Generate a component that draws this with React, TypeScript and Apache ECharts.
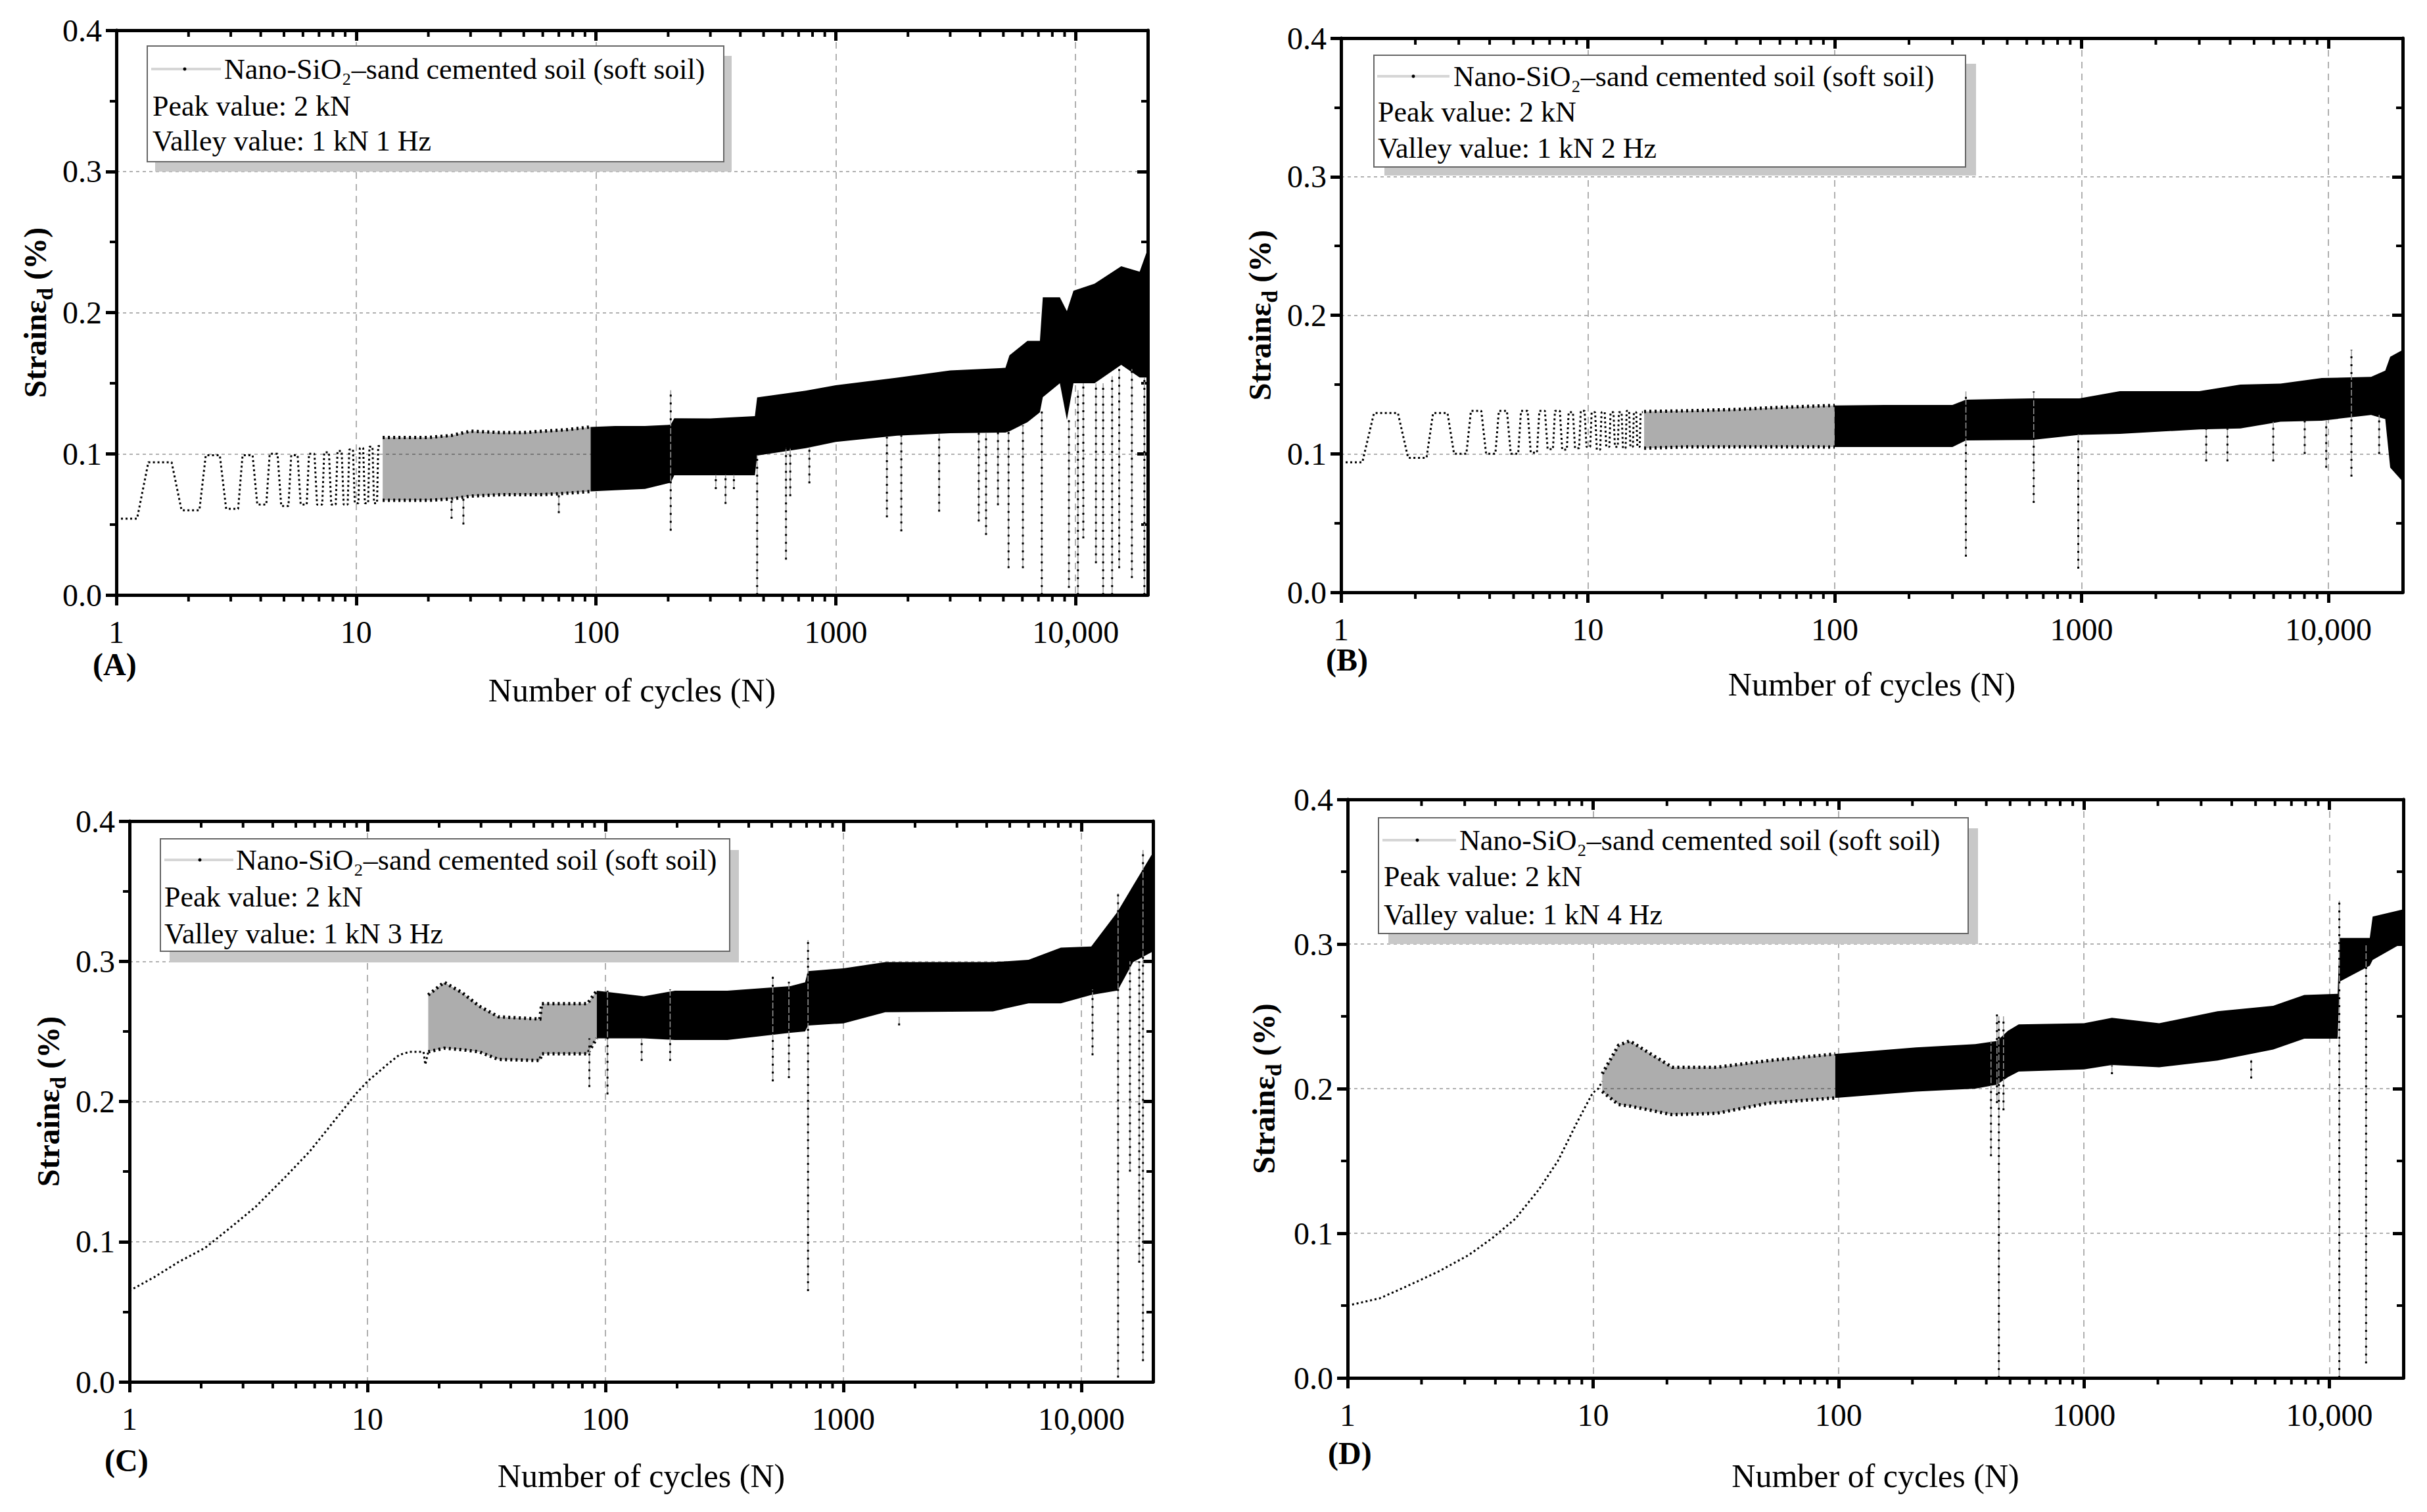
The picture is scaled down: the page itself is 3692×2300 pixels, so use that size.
import React, { useEffect, useRef } from 'react';
import * as echarts from 'echarts';

const FONT = "'Liberation Serif', 'Times New Roman', serif";

// axis labels
const xTickLabels = ['1', '10', '100', '1000', '10,000'];
const yTickLabels = ['0.0', '0.1', '0.2', '0.3', '0.4'];
const minorTickN = [
  2, 3, 4, 5, 6, 7, 8, 9,
  20, 30, 40, 50, 60, 70, 80, 90,
  200, 300, 400, 500, 600, 700, 800, 900,
  2000, 3000, 4000, 5000, 6000, 7000, 8000, 9000,
];

// (A) 1 Hz: peak / valley of the first loading cycles
const aPeak = [0.094, 0.099, 0.099, 0.1, 0.099, 0.1, 0.101, 0.102, 0.103, 0.104, 0.105, 0.1055];
const aValley = [0.054, 0.06, 0.061, 0.064, 0.063, 0.064, 0.064, 0.064, 0.064, 0.065, 0.065, 0.065];
// sparse (hatched) part of the cyclic band
const aHatchN = [12.9, 15, 20, 25, 30, 40, 50, 60, 75, 95];
const aHatchLow = [0.067, 0.067, 0.067, 0.068, 0.07, 0.071, 0.071, 0.071, 0.072, 0.0733];
const aHatchHigh = [0.1115, 0.1115, 0.1115, 0.113, 0.116, 0.115, 0.115, 0.116, 0.117, 0.119];
// dense band
const aBandN = [95, 120, 160, 205, 212, 300, 460, 470, 750, 1000, 1800, 3000, 5100, 5300, 6300, 7100, 7300, 8600, 9200, 9800, 12000, 15500, 18500, 20000];
const aBandHigh = [0.119, 0.1197, 0.1197, 0.1206, 0.1251, 0.125, 0.1267, 0.1399, 0.1447, 0.1486, 0.1539, 0.159, 0.1609, 0.1697, 0.18, 0.18, 0.2108, 0.2108, 0.201, 0.2155, 0.2205, 0.2328, 0.229, 0.245];
const aBandLow = [0.0733, 0.0742, 0.0751, 0.0795, 0.0847, 0.0847, 0.0847, 0.0987, 0.104, 0.1084, 0.1128, 0.1145, 0.115, 0.116, 0.1223, 0.1293, 0.14, 0.15, 0.124, 0.15, 0.15, 0.163, 0.154, 0.154];
// isolated drops
const aSpikeN = [25, 28, 70, 205, 316, 347, 376, 470, 620, 646, 776, 1634, 1876, 2698, 3946, 4233, 4746, 5254, 6030, 7230, 9380, 10230, 10770, 12160, 13030, 14200, 15200, 17170, 19360];
const aSpikeMin = [0.054, 0.05, 0.058, 0.0455, 0.075, 0.0645, 0.075, 0.0, 0.025, 0.07, 0.079, 0.055, 0.045, 0.059, 0.052, 0.0425, 0.0636, 0.019, 0.019, 0.0, 0.005, 0.0, 0.04, 0.0225, 0.0, 0.0, 0.019, 0.012, 0.0];
const aSpikeMax = [0.068, 0.07, 0.072, 0.145, 0.085, 0.085, 0.085, 0.099, 0.104, 0.104, 0.104, 0.112, 0.113, 0.114, 0.115, 0.115, 0.115, 0.116, 0.12, 0.13, 0.124, 0.145, 0.15, 0.15, 0.15, 0.155, 0.16, 0.16, 0.154];

// (B) 2 Hz
const bPeak = [0.1294, 0.1294, 0.131, 0.131, 0.131, 0.131, 0.131, 0.13, 0.131, 0.13, 0.13, 0.13, 0.13, 0.131, 0.13, 0.13];
const bValley = [0.0938, 0.097, 0.1, 0.1, 0.1, 0.1008, 0.1033, 0.103, 0.104, 0.105, 0.103, 0.105, 0.105, 0.104, 0.105, 0.105];
const bHatchN = [16.9, 25, 40, 60, 100];
const bHatchLow = [0.104, 0.105, 0.105, 0.105, 0.1049];
const bHatchHigh = [0.1305, 0.131, 0.132, 0.1335, 0.1349];
const bBandN = [100, 160, 300, 340, 630, 980, 1430, 3000, 4400, 6400, 9400, 14900, 17000, 17800, 20000];
const bBandHigh = [0.1349, 0.1352, 0.1352, 0.139, 0.14, 0.14, 0.1452, 0.1452, 0.1499, 0.1507, 0.1547, 0.1555, 0.16, 0.17, 0.175];
const bBandLow = [0.1049, 0.1049, 0.1049, 0.1096, 0.11, 0.1136, 0.1144, 0.1175, 0.1183, 0.1231, 0.1239, 0.128, 0.125, 0.09, 0.08];
const bSpikeN = [340, 640, 970, 3200, 3900, 5980, 8020, 9800, 12400, 16060];
const bSpikeMin = [0.0258, 0.0645, 0.0171, 0.0946, 0.0946, 0.0946, 0.0999, 0.0899, 0.0835, 0.0999];
const bSpikeMax = [0.145, 0.145, 0.114, 0.118, 0.118, 0.123, 0.124, 0.124, 0.175, 0.128];

// (C) 3 Hz
const cCurveN = [1, 1.28, 1.6, 2.08, 2.7, 3.39, 4.57, 5.72, 7.16, 8.98, 10, 12.1, 13.6, 15, 17.2, 17.5, 18];
const cCurveStrain = [0.065, 0.075, 0.0853, 0.0956, 0.111, 0.1249, 0.147, 0.1644, 0.185, 0.2058, 0.2143, 0.2263, 0.2332, 0.2354, 0.2354, 0.2263, 0.2354];
const cHatchN = [18, 21, 25, 29.5, 35.5, 53, 54, 84, 92];
const cHatchLow = [0.2354, 0.238, 0.2369, 0.2354, 0.23, 0.2292, 0.234, 0.234, 0.245];
const cHatchHigh = [0.276, 0.285, 0.2776, 0.268, 0.2604, 0.2588, 0.2698, 0.2698, 0.279];
const cBandN = [92, 145, 196, 325, 600, 690, 710, 1000, 1500, 4250, 6000, 8200, 11000, 14200, 16500, 20000];
const cBandHigh = [0.279, 0.275, 0.279, 0.279, 0.2823, 0.285, 0.293, 0.295, 0.2994, 0.2994, 0.301, 0.3097, 0.3105, 0.3354, 0.354, 0.3776];
const cBandLow = [0.245, 0.245, 0.2439, 0.2439, 0.249, 0.25, 0.2542, 0.2557, 0.2636, 0.2643, 0.27, 0.27, 0.276, 0.2791, 0.2994, 0.307];
const cSpikeN = [85.6, 102, 142, 187, 505, 590, 710, 1714, 11140, 14260, 16000, 17500, 18150];
const cSpikeMin = [0.2103, 0.205, 0.229, 0.229, 0.2143, 0.2166, 0.0647, 0.2543, 0.233, 0.003, 0.15, 0.085, 0.0148];
const cSpikeMax = [0.245, 0.279, 0.245, 0.28, 0.2893, 0.2854, 0.3151, 0.26, 0.28, 0.3484, 0.3, 0.3, 0.3794];

// (D) 4 Hz
const dCurveN = [1, 1.35, 1.74, 2.33, 3.12, 3.88, 4.82, 6.0, 7.19, 8.6, 9.96, 10.5, 10.9];
const dCurveStrain = [0.05, 0.055, 0.0633, 0.0733, 0.085, 0.0966, 0.11, 0.13, 0.15, 0.1766, 0.197, 0.2, 0.205];
const dHatchN = [10.9, 12.7, 14.1, 21, 32, 52, 97];
const dHatchLow = [0.198, 0.189, 0.188, 0.182, 0.183, 0.19, 0.1936];
const dHatchHigh = [0.2103, 0.23, 0.233, 0.2148, 0.2148, 0.2194, 0.224];
const dBandN = [97, 207, 361, 442, 490, 542, 1000, 1300, 2025, 3500, 5900, 7900, 10800, 11000, 14600, 15000, 20000];
const dBandHigh = [0.224, 0.2285, 0.2308, 0.233, 0.24, 0.2444, 0.2452, 0.249, 0.2452, 0.2535, 0.2573, 0.2648, 0.2656, 0.3042, 0.3042, 0.319, 0.324];
const dBandLow = [0.1936, 0.198, 0.2, 0.2027, 0.208, 0.2118, 0.2133, 0.2164, 0.2148, 0.2194, 0.227, 0.2345, 0.2345, 0.274, 0.285, 0.289, 0.301];
const dSpikeN = [418, 442, 450, 470, 1300, 4800, 10970, 14100];
const dSpikeMin = [0.1533, 0.19, 0.0, 0.185, 0.21, 0.207, 0.0, 0.01];
const dSpikeMax = [0.233, 0.2512, 0.25, 0.25, 0.216, 0.22, 0.33, 0.3];

const zip = (a: number[], b: number[]) => a.map((v, i) => [v, b[i]]);
const zip3 = (a: number[], b: number[], c: number[]) => a.map((v, i) => [v, b[i], c[i]]);

// each loading cycle k: valley held around N = k, peak held around N = k + 0.5
function cycleWave(peaks: number[], valleys: number[]) {
  const pts: number[][] = [];
  peaks.forEach((p, i) => {
    const k = i + 1;
    pts.push([Math.max(1, k - 0.13), valleys[i]], [k + 0.22, valleys[i]], [k + 0.36, p], [k + 0.7, p]);
  });
  return pts;
}

const panels = [
  {
    letter: '(A)', hz: '1 Hz',
    grid: { left: 177, top: 46, width: 1569, height: 859 },
    nameGap: 120, yNameGap: 92,
    line: cycleWave(aPeak, aValley),
    hatch: [aHatchN, aHatchLow, aHatchHigh],
    band: [aBandN, aBandLow, aBandHigh],
    spikes: zip3(aSpikeN, aSpikeMin, aSpikeMax),
    lg: { x: 224, y: 70, w: 877, h: 176, sx: 12, sy: 15, t1: 341, s0: 230, s1: 336, dot: 281, lx: 232, ly: [105, 161, 214] },
    lp: [141, 1010],
  },
  {
    letter: '(B)', hz: '2 Hz',
    grid: { left: 2040, top: 58, width: 1615, height: 843 },
    nameGap: 115, yNameGap: 92,
    line: cycleWave(bPeak, bValley),
    hatch: [bHatchN, bHatchLow, bHatchHigh],
    band: [bBandN, bBandLow, bBandHigh],
    spikes: zip3(bSpikeN, bSpikeMin, bSpikeMax),
    lg: { x: 2090, y: 84, w: 900, h: 170, sx: 16, sy: 13, t1: 2211, s0: 2095, s1: 2205, dot: 2150, lx: 2096, ly: [116, 170, 225] },
    lp: [2017, 1003],
  },
  {
    letter: '(C)', hz: '3 Hz',
    grid: { left: 197, top: 1249, width: 1557, height: 853 },
    nameGap: 118, yNameGap: 92,
    line: zip(cCurveN, cCurveStrain),
    hatch: [cHatchN, cHatchLow, cHatchHigh],
    band: [cBandN, cBandLow, cBandHigh],
    spikes: zip3(cSpikeN, cSpikeMin, cSpikeMax),
    lg: { x: 244, y: 1276, w: 866, h: 171, sx: 14, sy: 17, t1: 359, s0: 250, s1: 355, dot: 304, lx: 250, ly: [1308, 1364, 1420] },
    lp: [159, 2221],
  },
  {
    letter: '(D)', hz: '4 Hz',
    grid: { left: 2050, top: 1216, width: 1606, height: 880 },
    nameGap: 124, yNameGap: 96,
    line: zip(dCurveN, dCurveStrain),
    hatch: [dHatchN, dHatchLow, dHatchHigh],
    band: [dBandN, dBandLow, dBandHigh],
    spikes: zip3(dSpikeN, dSpikeMin, dSpikeMax),
    lg: { x: 2097, y: 1244, w: 897, h: 176, sx: 15, sy: 16, t1: 2220, s0: 2103, s1: 2215, dot: 2156, lx: 2105, ly: [1278, 1333, 1391] },
    lp: [2020, 2210],
  },
];

const axisLine = { show: true, onZero: false, lineStyle: { color: '#000', width: 5 } };

// filled envelope of the cyclic strain; sparse bands get a lighter fill and dotted edges
function bandSeries(i: number, arr: number[][], sparse: boolean) {
  return {
    type: 'custom', xAxisIndex: 2 * i, yAxisIndex: 2 * i, silent: true, z: 2,
    data: [[arr[0][0], arr[1][0]]],
    renderItem: (params: any, api: any) => {
      const [ns, lows, highs] = arr;
      const top = ns.map((n, k) => api.coord([n, highs[k]]));
      const bottom = ns.map((n, k) => api.coord([n, lows[k]]));
      const poly = { type: 'polygon', shape: { points: top.concat(bottom.slice().reverse()) }, style: { fill: '#000', opacity: sparse ? 0.32 : 1 } };
      if (!sparse) return poly;
      const edge = { fill: 'none', stroke: '#000', lineWidth: 5, lineDash: [3, 5] };
      return {
        type: 'group',
        children: [
          poly,
          { type: 'polyline', shape: { points: top }, style: edge },
          { type: 'polyline', shape: { points: bottom }, style: edge },
        ],
      };
    },
  };
}

function buildOption() {
  const xAxis: any[] = [];
  const yAxis: any[] = [];
  const series: any[] = [];
  const graphics: any[] = [];

  panels.forEach((p, i) => {
    xAxis.push({
      type: 'log', logBase: 10, gridIndex: i, min: 1, max: 20000, position: 'bottom',
      axisLine,
      axisTick: { show: true, inside: false, length: 16, lineStyle: { color: '#000', width: 5 } },
      axisLabel: {
        showMaxLabel: false, margin: 32, color: '#000', fontSize: 48, fontFamily: FONT,
        formatter: (v: number) => xTickLabels[Math.round(Math.log10(v))] ?? '',
      },
      splitLine: { show: true, lineStyle: { color: '#b0b0b0', width: 2, type: [10, 8] } },
      name: 'Number of cycles (N)', nameLocation: 'middle', nameGap: p.nameGap,
      nameTextStyle: { color: '#000', fontSize: 50, fontFamily: FONT },
    });
    xAxis.push({
      type: 'log', logBase: 10, gridIndex: i, min: 1, max: 20000, position: 'top',
      axisLine,
      axisTick: { show: true, inside: true, length: 16, lineStyle: { color: '#000', width: 5 } },
      axisLabel: { show: false },
      splitLine: { show: false },
    });
    yAxis.push({
      type: 'value', gridIndex: i, min: 0, max: 0.4, interval: 0.1, position: 'left',
      axisLine,
      axisTick: { show: true, inside: false, length: 16, lineStyle: { color: '#000', width: 5 } },
      minorTick: { show: true, splitNumber: 2, length: 10, lineStyle: { color: '#000', width: 4 } },
      axisLabel: {
        margin: 22, color: '#000', fontSize: 48, fontFamily: FONT,
        formatter: (v: number) => yTickLabels[Math.round(v * 10)] ?? '',
      },
      splitLine: { show: true, lineStyle: { color: '#b0b0b0', width: 2, type: [5, 5] } },
      name: '{a|Strainε}{b|d}{a| (%)}', nameLocation: 'middle', nameGap: p.yNameGap, nameRotate: 90,
      nameTextStyle: {
        color: '#000',
        rich: {
          a: { fontSize: 48, fontWeight: 'bold', fontFamily: FONT, lineHeight: 64, color: '#000' },
          b: { fontSize: 34, fontWeight: 'bold', fontFamily: FONT, lineHeight: 64, verticalAlign: 'bottom', color: '#000' },
        },
      },
    });
    yAxis.push({
      type: 'value', gridIndex: i, min: 0, max: 0.4, interval: 0.1, position: 'right',
      axisLine,
      axisTick: { show: true, inside: true, length: 16, lineStyle: { color: '#000', width: 5 } },
      minorTick: { show: true, splitNumber: 2, length: 10, lineStyle: { color: '#000', width: 4 } },
      axisLabel: { show: false },
      splitLine: { show: false },
    });

    series.push(bandSeries(i, p.hatch, true));
    series.push(bandSeries(i, p.band, false));
    series.push({
      type: 'custom', xAxisIndex: 2 * i, yAxisIndex: 2 * i, silent: true, z: 3,
      data: p.spikes,
      renderItem: (params: any, api: any) => {
        const a = api.coord([api.value(0), api.value(1)]);
        const b = api.coord([api.value(0), api.value(2)]);
        const shape = { x1: a[0], y1: a[1], x2: b[0], y2: b[1] };
        return {
          type: 'group',
          children: [
            { type: 'line', shape, style: { stroke: '#9a9a9a', lineWidth: 1.5 } },
            { type: 'line', shape, style: { stroke: '#000', lineWidth: 3, lineDash: [3, 9] } },
          ],
        };
      },
    });
    series.push({
      type: 'line', xAxisIndex: 2 * i, yAxisIndex: 2 * i, data: p.line, showSymbol: false, silent: true, z: 4,
      lineStyle: { color: '#000', width: 3, type: [3, 4] },
    });
    series.push({
      type: 'custom', xAxisIndex: 2 * i, yAxisIndex: 2 * i, silent: true, z: 5, clip: false,
      data: minorTickN.map((n) => [n, 0]),
      renderItem: (params: any, api: any) => {
        const b = api.coord([api.value(0), 0]);
        const t = api.coord([api.value(0), 0.4]);
        const style = { stroke: '#000', lineWidth: 4 };
        return {
          type: 'group',
          children: [
            { type: 'line', shape: { x1: b[0], y1: b[1], x2: b[0], y2: b[1] + 10 }, style },
            { type: 'line', shape: { x1: t[0], y1: t[1], x2: t[0], y2: t[1] + 10 }, style },
          ],
        };
      },
    });

    const g = p.lg;
    const txt = (text: string, x: number, y: number) => ({
      type: 'text', x, y, z: 103,
      style: { text, fill: '#000', fontSize: 44, fontFamily: FONT, align: 'left', verticalAlign: 'middle' },
    });
    graphics.push(
      { type: 'rect', z: 100, shape: { x: g.x + g.sx, y: g.y + g.sy, width: g.w, height: g.h }, style: { fill: '#c8c8c8' } },
      { type: 'rect', z: 101, shape: { x: g.x, y: g.y, width: g.w, height: g.h }, style: { fill: '#fff', stroke: '#666', lineWidth: 2 } },
      { type: 'line', z: 102, shape: { x1: g.s0, y1: g.ly[0], x2: g.s1, y2: g.ly[0] }, style: { stroke: '#d6d6d6', lineWidth: 4 } },
      { type: 'circle', z: 103, shape: { cx: g.dot, cy: g.ly[0], r: 2.5 }, style: { fill: '#000' } },
      txt('Nano-SiO₂–sand cemented soil (soft soil)', g.t1, g.ly[0]),
      txt('Peak value: 2 kN', g.lx, g.ly[1]),
      txt('Valley value: 1 kN ' + p.hz, g.lx, g.ly[2]),
      {
        type: 'text', x: p.lp[0], y: p.lp[1], z: 103,
        style: { text: p.letter, fill: '#000', fontSize: 48, fontWeight: 'bold', fontFamily: FONT, align: 'left', verticalAlign: 'middle' },
      },
    );
  });

  return {
    animation: false,
    backgroundColor: '#fff',
    grid: panels.map((p) => ({ ...p.grid, containLabel: false })),
    xAxis,
    yAxis,
    series,
    graphic: { elements: graphics },
  };
}

const App: React.FC = () => {
  const chartRef = useRef<HTMLDivElement>(null);

  useEffect(() => {
    if (!chartRef.current) return;
    const chart = echarts.init(chartRef.current, null, { renderer: 'svg' });
    chart.setOption(buildOption() as any);
    return () => {
      chart.dispose();
    };
  }, []);

  return (
    <div
      ref={chartRef}
      style={{ position: 'absolute', left: 0, top: 0, width: '3692px', height: '2300px', background: '#fff' }}
    ></div>
  );
};

export default App;
